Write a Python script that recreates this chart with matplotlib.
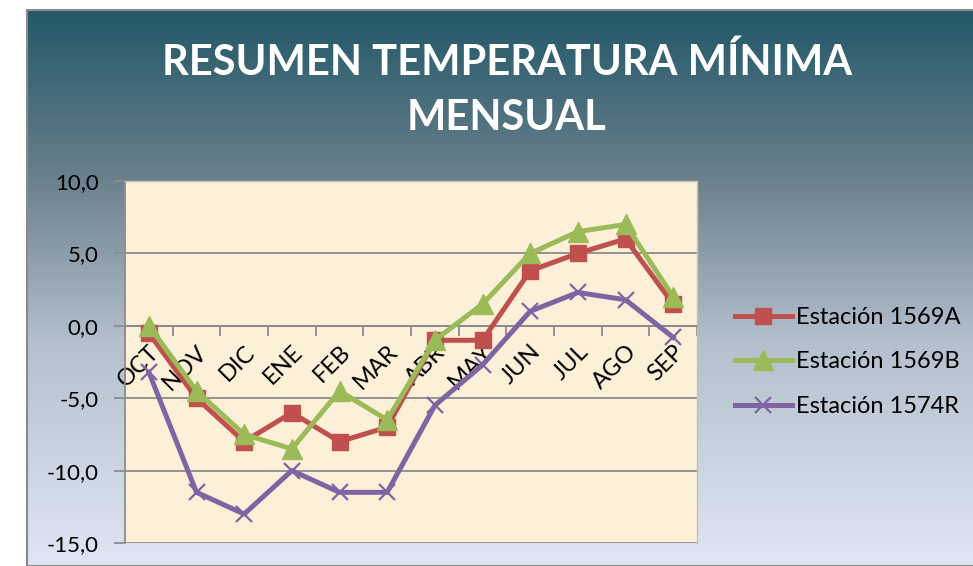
import numpy as np
import matplotlib.pyplot as plt
from matplotlib.colors import LinearSegmentedColormap
from matplotlib.patches import Rectangle

plt.rcParams['font.family'] = ['Lato', 'DejaVu Sans']

# data
meses = ['OCT', 'NOV', 'DIC', 'ENE', 'FEB', 'MAR', 'ABR', 'MAY', 'JUN', 'JUL', 'AGO', 'SEP']
est_1569A = [-0.5, -5.0, -8.0, -6.0, -8.0, -7.0, -1.0, -1.0, 3.8, 5.0, 6.0, 1.5]
est_1569B = [0.0, -4.5, -7.5, -8.5, -4.5, -6.5, -1.0, 1.5, 5.0, 6.5, 7.0, 2.0]
est_1574R = [-3.2, -11.5, -13.0, -10.0, -11.5, -11.5, -5.5, -2.7, 1.0, 2.3, 1.8, -0.8]
y_ticks = [10, 5, 0, -5, -10, -15]
y_labels = ['10,0', '5,0', '0,0', '-5,0', '-10,0', '-15,0']

W, H = 973, 566
fig = plt.figure(figsize=(W / 100, H / 100), dpi=100)
fig.patch.set_facecolor('white')

# chart background with vertical gradient (frame runs past bottom/right edge)
fx, fy = 27, 9.5
bg = fig.add_axes([fx / W, 0, 1 - fx / W, (H - fy) / H])
bg.set_axis_off()
cmap = LinearSegmentedColormap.from_list(
    'bg', [(0.0, '#215868'), (0.3, '#6a7f8c'), (0.6, '#b4c0cd'), (1.0, '#dfe6f3')])
grad = np.linspace(0, 1, 256).reshape(-1, 1)
bg.imshow(grad, aspect='auto', cmap=cmap, extent=[0, 1, 0, 1], origin='upper')
bg.set_xlim(0, 1)
bg.set_ylim(0, 1)
fig.add_artist(Rectangle((fx / W, 0), 1 - fx / W + 0.01, (H - fy) / H,
                         transform=fig.transFigure, fill=False,
                         edgecolor='#8a8a8a', linewidth=1.5))

fig.text(507 / W, 1 - 62 / H, 'RESUMEN TEMPERATURA MÍNIMA', ha='center', va='center',
         fontsize=30, fontweight='bold', color='white')
fig.text(507 / W, 1 - 118 / H, 'MENSUAL', ha='center', va='center',
         fontsize=30, fontweight='bold', color='white')

# plot area
x0, x1, yt, yb = 125, 697, 181, 543
ax = fig.add_axes([x0 / W, (H - yb) / H, (x1 - x0) / W, (yb - yt) / H])
ax.set_facecolor('#fcf0d8')

x = np.arange(len(meses))
ax.plot(x, est_1569A, color='#c0504d', linewidth=3.6, marker='s', markersize=12,
        label='Estación 1569A', zorder=3)
ax.plot(x, est_1569B, color='#9bbb59', linewidth=3.6, marker='^', markersize=14,
        label='Estación 1569B', zorder=4)
ax.plot(x, est_1574R, color='#8064a2', linewidth=3.6, marker='x', markersize=12,
        markeredgewidth=1.6, label='Estación 1574R', zorder=5)

ax.set_xlim(-0.5, len(meses) - 0.5)
ax.set_ylim(-15, 10)
ax.set_yticks(y_ticks)
ax.set_yticklabels(y_labels, fontsize=16)
ax.tick_params(axis='y', length=8, width=1.3, color='#8c8c8c', pad=11)
for v in y_ticks:
    ax.axhline(v, color='#8c8c8c', linewidth=1.3, zorder=1)

# category axis crosses at 0
ax.spines['bottom'].set_position(('data', 0))
ax.set_xticks(x)
ax.set_xticklabels(meses, fontsize=17, rotation=45, ha='right', rotation_mode='anchor')
ax.set_xticks(np.arange(len(meses) + 1) - 0.5, minor=True)
ax.tick_params(axis='x', which='major', length=0, pad=11)
ax.tick_params(axis='x', which='minor', length=7, width=1.3, color='#8c8c8c')

for side in ['top', 'right']:
    ax.spines[side].set_color('#c8c0b0')
    ax.spines[side].set_linewidth(1)
ax.spines['left'].set_color('#8c8c8c')
ax.spines['left'].set_linewidth(1.3)
ax.spines['bottom'].set_color('#8c8c8c')
ax.spines['bottom'].set_linewidth(1.3)

ax.legend(loc='center left', bbox_to_anchor=(735 / W, 1 - 362 / H), bbox_transform=fig.transFigure,
          frameon=False, fontsize=17, handlelength=2.4, handletextpad=0.2,
          labelspacing=1.0, borderpad=0, borderaxespad=0)

fig.savefig('out.png', dpi=100)
